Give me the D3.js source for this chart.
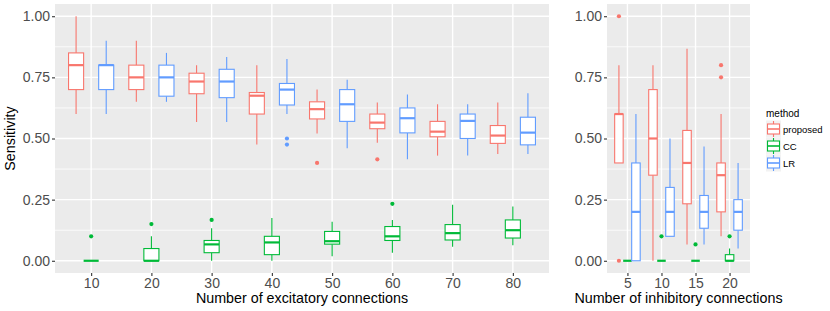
<!DOCTYPE html>
<html><head><meta charset="utf-8">
<script src="https://cdn.jsdelivr.net/npm/d3@7"></script>
<style>body{margin:0;background:#fff}svg{display:block;font-family:"Liberation Sans",Arial,sans-serif}</style>
</head><body><svg id="c" width="830" height="311"></svg>
<script>
// ---------- data ----------
const methods = ["proposed", "CC", "LR"];
const excitatory = ["10", "20", "30", "40", "50", "60", "70", "80"];
const inhibitory = ["5", "10", "15", "20"];
const yTicks = [0, 0.25, 0.5, 0.75, 1];
const yMinor = [0.125, 0.375, 0.625, 0.875];
// box stats: [lower whisker, Q1, median, Q3, upper whisker]
const excProposed = [[0.6,0.7,0.8,0.85,1.0],[0.65,0.7,0.75,0.8,0.9],[0.567,0.683,0.733,0.767,0.8],[0.475,0.6,0.675,0.688,0.8],[0.52,0.58,0.62,0.65,0.7],[0.483,0.54,0.565,0.6,0.647],[0.43,0.507,0.528,0.57,0.64],[0.437,0.48,0.512,0.553,0.647]];
const excProposedOut = [[],[],[],[],[0.4],[0.415],[],[]];
const excCC = [[0,0,0,0,0],[0,0,0,0.05,0.1],[0,0.033,0.067,0.083,0.133],[0,0.025,0.075,0.1,0.175],[0.018,0.068,0.08,0.12,0.16],[0.033,0.083,0.1,0.14,0.167],[0.057,0.085,0.113,0.148,0.229],[0.063,0.093,0.125,0.167,0.222]];
const excCCOut = [[0.1],[0.15],[0.167],[],[],[0.233],[],[]];
const excLR = [[0.6,0.7,0.8,0.8,0.9],[0.65,0.673,0.75,0.8,0.85],[0.567,0.667,0.733,0.783,0.833],[0.6,0.637,0.7,0.725,0.825],[0.46,0.57,0.64,0.7,0.74],[0.415,0.523,0.583,0.625,0.68],[0.43,0.5,0.572,0.6,0.64],[0.437,0.474,0.524,0.587,0.685]];
const excLROut = [[],[],[],[0.5,0.475],[],[],[],[]];
const inhProposed = [[0.4,0.4,0.6,0.6,0.8],[0,0.35,0.5,0.7,0.8],[0.067,0.233,0.4,0.533,0.867],[0.1,0.2,0.35,0.4,0.6]];
const inhProposedOut = [[1.0,0],[],[],[0.8,0.75]];
const inhCC = [[0,0,0,0,0],[0,0,0,0,0],[0,0,0,0,0],[0,0,0,0.025,0.05]];
const inhCCOut = [[],[0.1],[0.067],[0.1]];
const inhLR = [[0,0,0.2,0.4,0.6],[0.1,0.1,0.2,0.3,0.5],[0.067,0.133,0.2,0.267,0.467],[0.05,0.125,0.2,0.25,0.4]];
const inhLROut = [[],[],[],[]];

// ---------- styles ----------
const color = d3.scaleOrdinal().domain(methods).range(["#F8766D", "#00BA38", "#619CFF"]);
const svg = d3.select("#c");
const pTop = 4, pBottom = 273;
const y = d3.scaleLinear().domain([-0.05, 1.05]).range([pBottom, pTop]);

function panel(opts) {
  const {x0, x1, cats, stats, outs, title} = opts;
  const x = d3.scalePoint().domain(cats).range([x0, x1]).padding(0.6);
  const step = x.step();
  const off = d3.scalePoint().domain(methods).range([-0.25, 0.25]);
  const g = svg.append("g");
  g.append("rect").attr("x", x0).attr("y", pTop).attr("width", x1 - x0).attr("height", pBottom - pTop).attr("fill", "#EBEBEB");
  g.selectAll(".mn").data(yMinor).join("line").attr("x1", x0).attr("x2", x1)
    .attr("y1", d => y(d)).attr("y2", d => y(d)).attr("stroke", "#fff").attr("stroke-width", 0.8);
  g.selectAll(".mj").data(yTicks).join("line").attr("x1", x0).attr("x2", x1)
    .attr("y1", d => y(d)).attr("y2", d => y(d)).attr("stroke", "#fff").attr("stroke-width", 1.4);
  g.selectAll(".vx").data(cats).join("line").attr("y1", pTop).attr("y2", pBottom)
    .attr("x1", d => x(d)).attr("x2", d => x(d)).attr("stroke", "#fff").attr("stroke-width", 1.4);
  // boxes
  const bw = step * 0.25;
  methods.forEach((m, mi) => {
    cats.forEach((c, ci) => {
      const s = stats[mi][ci];
      const cx = x(c) + off(m) * step;
      const col = color(m);
      const bg = g.append("g");
      bg.append("line").attr("x1", cx).attr("x2", cx).attr("y1", y(s[3])).attr("y2", y(s[4])).attr("stroke", col).attr("stroke-width", 1.1);
      bg.append("line").attr("x1", cx).attr("x2", cx).attr("y1", y(s[0])).attr("y2", y(s[1])).attr("stroke", col).attr("stroke-width", 1.1);
      bg.append("rect").attr("x", cx - bw / 2).attr("width", bw).attr("y", y(s[3])).attr("height", Math.max(0, y(s[1]) - y(s[3])))
        .attr("fill", "#fff").attr("stroke", col).attr("stroke-width", 1.1);
      bg.append("line").attr("x1", cx - bw / 2).attr("x2", cx + bw / 2).attr("y1", y(s[2])).attr("y2", y(s[2])).attr("stroke", col).attr("stroke-width", 2.2);
      bg.selectAll("circle").data(outs[mi][ci]).join("circle").attr("cx", cx).attr("cy", d => y(d)).attr("r", 2.1).attr("fill", col);
    });
  });
  // axes
  const ya = g.append("g").attr("transform", `translate(${x0},0)`)
    .call(d3.axisLeft(y).tickValues(yTicks).tickFormat(d3.format(".2f")).tickSize(3).tickPadding(2));
  const xa = g.append("g").attr("transform", `translate(0,${pBottom})`)
    .call(d3.axisBottom(x).tickSize(3).tickPadding(2));
  [ya, xa].forEach(a => {
    a.select(".domain").remove();
    a.selectAll(".tick line").attr("stroke", "#333333").attr("stroke-width", 1.1);
    a.selectAll(".tick text").attr("fill", "#4D4D4D").attr("font-size", 14).attr("font-family", "Liberation Sans, Arial, sans-serif");
  });
  g.append("text").attr("x", (x0 + x1) / 2).attr("y", 303).attr("text-anchor", "middle")
    .attr("font-size", 14.3).attr("fill", "#000").text(title);
}

panel({x0: 55, x1: 549, cats: excitatory,
  stats: [excProposed, excCC, excLR], outs: [excProposedOut, excCCOut, excLROut],
  title: "Number of excitatory connections"});
panel({x0: 607, x1: 750, cats: inhibitory,
  stats: [inhProposed, inhCC, inhLR], outs: [inhProposedOut, inhCCOut, inhLROut],
  title: "Number of inhibitory connections"});

svg.append("text").attr("transform", `translate(15,${(pTop + pBottom) / 2}) rotate(-90)`)
  .attr("text-anchor", "middle").attr("font-size", 14.3).attr("fill", "#000").text("Sensitivity");

// legend
const lg = svg.append("g").attr("transform", "translate(766,0)");
lg.append("text").attr("x", 0).attr("y", 117).attr("font-size", 10).text("method");
methods.forEach((m, i) => {
  const ky = 120.5 + i * 17;
  const col = color(m);
  const k = lg.append("g");
  k.append("rect").attr("x", 0).attr("y", ky).attr("width", 15).attr("height", 17).attr("fill", "#F2F2F2");
  k.append("line").attr("x1", 7.5).attr("x2", 7.5).attr("y1", ky + 0.5).attr("y2", ky + 16.5).attr("stroke", col).attr("stroke-width", 1.1);
  k.append("rect").attr("x", 1.5).attr("y", ky + 3.5).attr("width", 12).attr("height", 10).attr("fill", "#fff").attr("stroke", col).attr("stroke-width", 1.1);
  k.append("line").attr("x1", 1.5).attr("x2", 13.5).attr("y1", ky + 8.5).attr("y2", ky + 8.5).attr("stroke", col).attr("stroke-width", 1.6);
  lg.append("text").attr("x", 17).attr("y", ky + 12).attr("font-size", 9.5).attr("fill", "#000").text(m);
});
</script></body></html>
